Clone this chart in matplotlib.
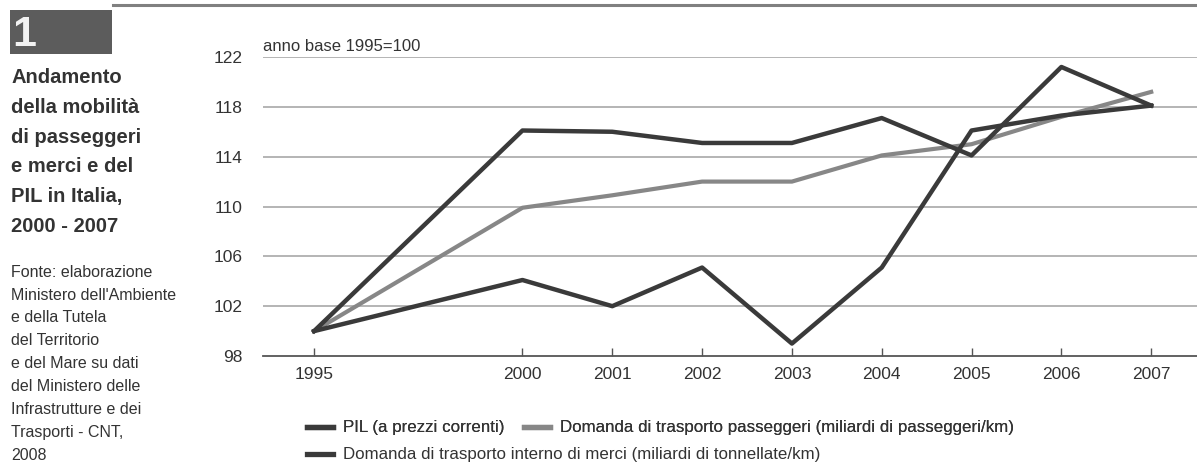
import numpy as np
import matplotlib.pyplot as plt
from matplotlib.patches import Rectangle
from matplotlib.lines import Line2D

years = [1995, 2000, 2001, 2002, 2003, 2004, 2005, 2006, 2007]
pil = [100, 104.1, 102, 105.1, 99, 105.1, 116.1, 117.3, 118.1]
passeggeri = [100, 109.9, 110.9, 112, 112, 114.1, 115.0, 117.2, 119.2]
merci = [100, 116.1, 116, 115.1, 115.1, 117.1, 114.1, 121.2, 118.1]
yticks = [98, 102, 106, 110, 114, 118, 122]

label_pil = 'PIL (a prezzi correnti)'
label_pas = 'Domanda di trasporto passeggeri (miliardi di passeggeri/km)'
label_mer = 'Domanda di trasporto interno di merci (miliardi di tonnellate/km)'

plt.rcParams['font.family'] = ['Liberation Sans', 'DejaVu Sans']

dark = '#3a3a3a'
grey = '#878787'
txt = '#333333'

# 1995 sits a bit further from the yearly run 2000-2007
yr = np.array(years)
xpos = np.arange(len(years)) + np.where(yr >= 2000, 1.32, 0)

fig = plt.figure(figsize=(11.97, 4.68), dpi=100)
ax = fig.add_axes([0.2197, 0.2393, 0.7803, 0.6389])

for v in yticks[1:]:
    ax.axhline(v, color='#a0a0a0', lw=1.1, zorder=1)

ax.plot(xpos, pil, color=dark, lw=3.2, zorder=3)
ax.plot(xpos, passeggeri, color=grey, lw=3.0, zorder=2)
ax.plot(xpos, merci, color=dark, lw=3.2, zorder=3)

ax.set_xlim(-0.569, 9.83)
ax.set_ylim(98, 122)
ax.set_xticks(xpos)
ax.set_xticklabels([str(y) for y in years], fontsize=12.5, color=txt)
ax.set_yticks(yticks)
ax.set_yticklabels([str(v) for v in yticks], fontsize=12.5, color=txt)
for s in ['top', 'right', 'left']:
    ax.spines[s].set_visible(False)
ax.spines['bottom'].set_color('#555555')
ax.spines['bottom'].set_linewidth(1.3)
ax.tick_params(axis='x', direction='in', length=6, width=1, color='#555555', pad=8)
ax.tick_params(axis='y', length=0, pad=15)

fig.text(0.2197, 0.891, 'anno base 1995=100', fontsize=12, color=txt,
         ha='left', va='baseline')

# header: rule and numbered box
fig.add_artist(Line2D([0.094, 1.0], [0.989, 0.989], color='#808080', lw=2.2))
fig.add_artist(Rectangle((0.0084, 0.885), 0.0852, 0.094, facecolor='#5c5c5c',
                         edgecolor='none'))
fig.text(0.0105, 0.902, '1', color='#f2f2f2', fontsize=31, fontweight='bold',
         ha='left', va='baseline')

fig.text(0.0092, 0.8547,
         'Andamento\ndella mobilità\ndi passeggeri\ne merci e del\nPIL in Italia,\n2000 - 2007',
         fontsize=14.5, fontweight='bold', color=txt, ha='left', va='top',
         linespacing=1.72)
fig.text(0.0092, 0.4345,
         "Fonte: elaborazione\nMinistero dell'Ambiente\ne della Tutela\ndel Territorio\n"
         "e del Mare su dati\ndel Ministero delle\nInfrastrutture e dei\nTrasporti - CNT,\n2008",
         fontsize=11.5, color=txt, ha='left', va='top', linespacing=1.66)

h_pil = Line2D([], [], color=dark, lw=3.8)
h_pas = Line2D([], [], color=grey, lw=3.8)
h_mer = Line2D([], [], color=dark, lw=3.8)
leg_kw = dict(frameon=False, fontsize=12.2, handlelength=1.55, handletextpad=0.6,
              columnspacing=1.1, borderaxespad=0, borderpad=0, labelcolor=txt)
leg1 = fig.legend([h_pil, h_pas], [label_pil, label_pas], ncol=2, loc='center left',
                  bbox_to_anchor=(0.2565, 0.0855), **leg_kw)
fig.add_artist(leg1)
fig.legend([h_mer], [label_mer], loc='center left',
           bbox_to_anchor=(0.2565, 0.0278), **leg_kw)

fig.savefig('out.png', dpi=100)
